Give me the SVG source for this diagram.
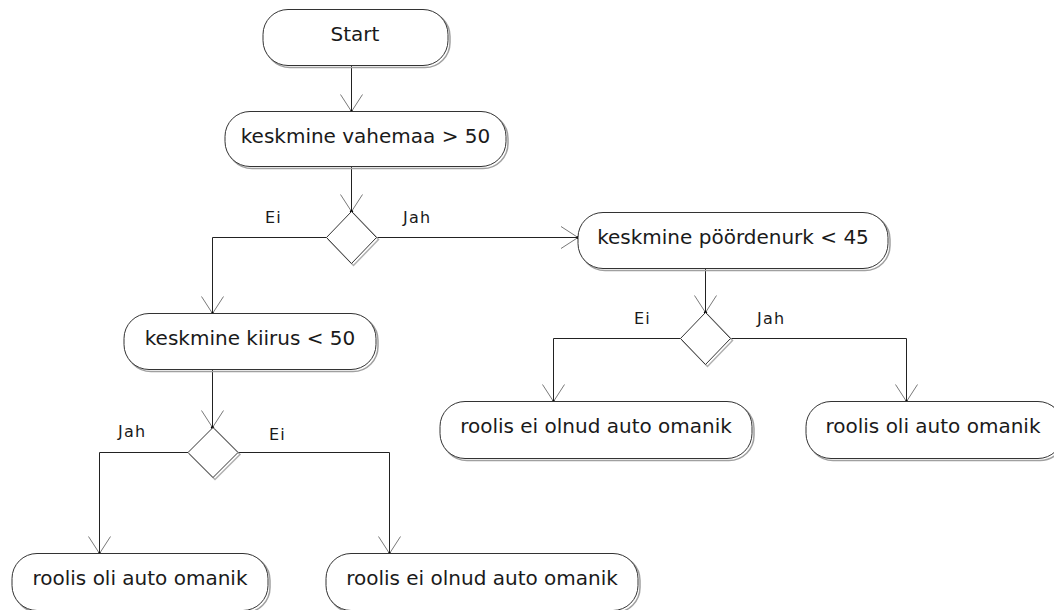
<svg xmlns="http://www.w3.org/2000/svg" width="1054" height="610" viewBox="0 0 1054 610">
<defs>
<style>
.node rect.sh{fill:none;stroke:#a0a0a0;stroke-width:1.5}
.node rect.bx{fill:#fff;stroke:#333;stroke-width:1}
.dec polygon.sh{fill:none;stroke:#b0b0b0;stroke-width:1.5}
.dec polygon.bx{fill:#fff;stroke:#333;stroke-width:1}
.t{font-family:"DejaVu Sans",sans-serif;font-size:20px;fill:#1a1a1a;text-anchor:middle}
.lbl{font-family:"DejaVu Sans",sans-serif;font-size:16px;fill:#1a1a1a;letter-spacing:1.2px}
#connectors path{fill:none;stroke:#222;stroke-width:1}
</style>
<marker id="arr" markerWidth="20" markerHeight="24" refX="18" refY="12" orient="auto" markerUnits="userSpaceOnUse" viewBox="0 0 20 24">
<path d="M1 1 L18 12 L1 23" fill="none" stroke="#555" stroke-width="0.8"/>
<circle cx="18" cy="12" r="1.6" fill="#000"/>
</marker>
</defs>
<rect width="1054" height="610" fill="#fff"/>

<g id="connectors">
<path d="M351.5 66 V111.5" marker-end="url(#arr)"/>
<path d="M351.5 167 V211.5" marker-end="url(#arr)"/>
<path d="M326.5 237.5 H212.5 V313.5" marker-end="url(#arr)"/>
<path d="M376.5 237.5 H578" marker-end="url(#arr)"/>
<path d="M705.5 269 V312.5" marker-end="url(#arr)"/>
<path d="M680.5 338.5 H553.5 V401.5" marker-end="url(#arr)"/>
<path d="M730.5 338.5 H906.5 V401.5" marker-end="url(#arr)"/>
<path d="M212.5 370 V427.5" marker-end="url(#arr)"/>
<path d="M188 452.5 H99.5 V553.5" marker-end="url(#arr)"/>
<path d="M238 452.5 H389.5 V553.5" marker-end="url(#arr)"/>
</g>

<g id="start" class="node">
<rect class="sh" x="265" y="11.5" width="185" height="56" rx="25" ry="25"/>
<rect class="bx" x="263" y="9.5" width="185" height="56" rx="25" ry="25"/>
<text class="t" x="355" y="40.5">Start</text>
</g>

<g id="vahemaa" class="node">
<rect class="sh" x="227" y="113.5" width="281" height="55" rx="25" ry="25"/>
<rect class="bx" x="225" y="111.5" width="281" height="55" rx="25" ry="25"/>
<text class="t" x="365.5" y="142.5">keskmine vahemaa &gt; 50</text>
</g>

<g id="decision1" class="dec">
<polygon class="sh" points="353.5,213.5 378.5,239.5 353.5,265.5 328.5,239.5"/>
<polygon class="bx" points="351.5,211.5 376.5,237.5 351.5,263.5 326.5,237.5"/>
<text class="lbl" x="265" y="222.5">Ei</text>
<text class="lbl" x="403" y="222.5">Jah</text>
</g>

<g id="poordenurk" class="node">
<rect class="sh" x="580" y="214.5" width="310" height="56" rx="25" ry="25"/>
<rect class="bx" x="578" y="212.5" width="310" height="56" rx="25" ry="25"/>
<text class="t" x="733" y="243.5">keskmine pöördenurk &lt; 45</text>
</g>

<g id="kiirus" class="node">
<rect class="sh" x="126" y="315.5" width="252" height="56" rx="25" ry="25"/>
<rect class="bx" x="124" y="313.5" width="252" height="56" rx="25" ry="25"/>
<text class="t" x="250" y="344.5">keskmine kiirus &lt; 50</text>
</g>

<g id="decision2" class="dec">
<polygon class="sh" points="707.5,314.5 732.5,340.5 707.5,366.5 682.5,340.5"/>
<polygon class="bx" points="705.5,312.5 730.5,338.5 705.5,364.5 680.5,338.5"/>
<text class="lbl" x="634" y="323.5">Ei</text>
<text class="lbl" x="757" y="323.5">Jah</text>
</g>

<g id="roolis-ei-1" class="node">
<rect class="sh" x="442" y="403.5" width="312" height="57" rx="25" ry="25"/>
<rect class="bx" x="440" y="401.5" width="312" height="57" rx="25" ry="25"/>
<text class="t" x="596" y="432.5">roolis ei olnud auto omanik</text>
</g>

<g id="roolis-oli-1" class="node">
<rect class="sh" x="808" y="403.5" width="257" height="57" rx="25" ry="25"/>
<rect class="bx" x="806" y="401.5" width="257" height="57" rx="25" ry="25"/>
<text class="t" x="933" y="432.5">roolis oli auto omanik</text>
</g>

<g id="decision3" class="dec">
<polygon class="sh" points="215,429.5 240,454.5 215,479.5 190,454.5"/>
<polygon class="bx" points="213,427.5 238,452.5 213,477.5 188,452.5"/>
<text class="lbl" x="118" y="437">Jah</text>
<text class="lbl" x="269" y="440">Ei</text>
</g>

<g id="roolis-oli-2" class="node">
<rect class="sh" x="14" y="555.5" width="256" height="57" rx="25" ry="25"/>
<rect class="bx" x="12" y="553.5" width="256" height="57" rx="25" ry="25"/>
<text class="t" x="140" y="584.5">roolis oli auto omanik</text>
</g>

<g id="roolis-ei-2" class="node">
<rect class="sh" x="328" y="555.5" width="312" height="57" rx="25" ry="25"/>
<rect class="bx" x="326" y="553.5" width="312" height="57" rx="25" ry="25"/>
<text class="t" x="482" y="584.5">roolis ei olnud auto omanik</text>
</g>
</svg>
